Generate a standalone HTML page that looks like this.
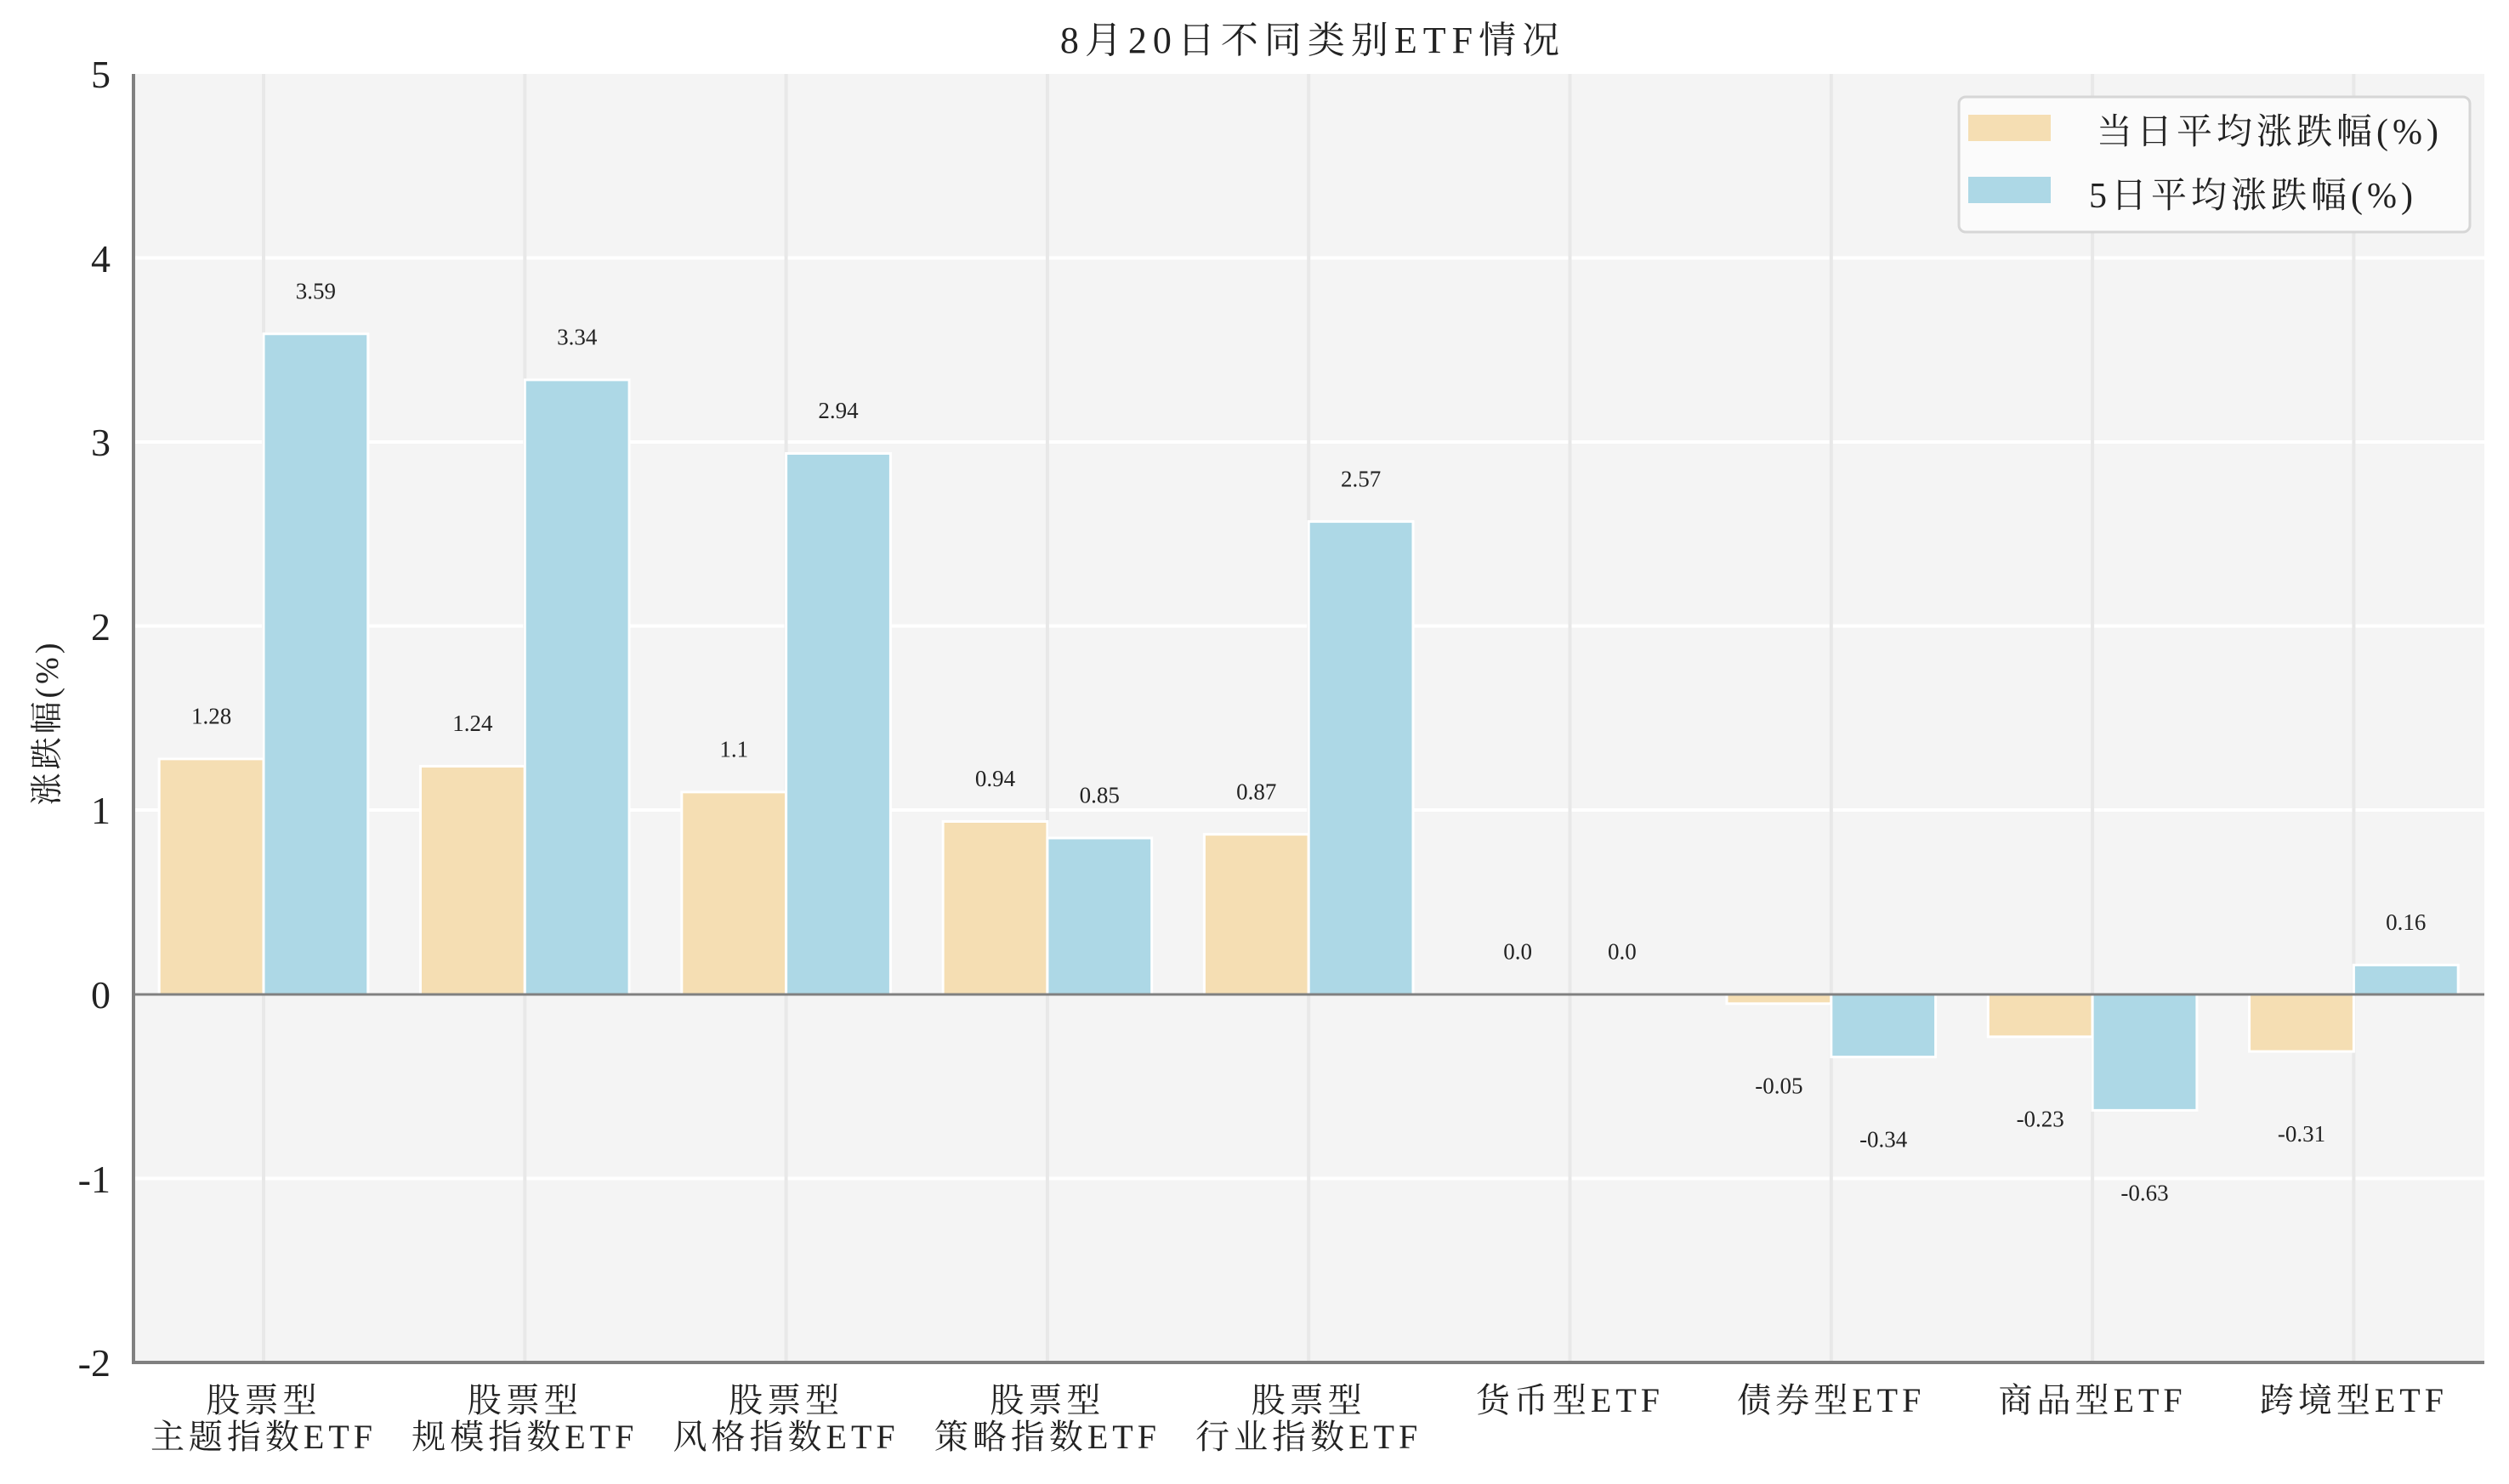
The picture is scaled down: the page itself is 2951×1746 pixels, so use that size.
<!DOCTYPE html>
<html><head><meta charset="utf-8"><style>
html,body{margin:0;padding:0;background:#fff;}
svg{display:block;font-family:"Liberation Serif","Noto Serif CJK SC",serif;}
</style></head><body>
<svg width="2951" height="1746" viewBox="0 0 2951 1746" xmlns="http://www.w3.org/2000/svg">
<rect x="157" y="87" width="2765" height="1516" fill="#f4f4f4"/>
<g stroke="#ffffff" stroke-width="4">
<line x1="157" x2="2922" y1="303.5" y2="303.5"/>
<line x1="157" x2="2922" y1="520" y2="520"/>
<line x1="157" x2="2922" y1="736.5" y2="736.5"/>
<line x1="157" x2="2922" y1="953" y2="953"/>
<line x1="157" x2="2922" y1="1386.5" y2="1386.5"/>
</g>
<g stroke="#e8e8e8" stroke-width="4" id="vg"></g>
<g id="bars"></g>
<g id="labels" font-size="27" fill="#222" text-anchor="middle"></g>
<line x1="157" x2="2922" y1="1170" y2="1170" stroke="#808080" stroke-width="3"/>
<line x1="157" x2="157" y1="87" y2="1605" stroke="#808080" stroke-width="4"/>
<line x1="155" x2="2922" y1="1603" y2="1603" stroke="#808080" stroke-width="4"/>
<g font-size="46" fill="#222" text-anchor="end">
<text x="130" y="103">5</text><text x="130" y="320">4</text><text x="130" y="536">3</text><text x="130" y="753">2</text><text x="130" y="969">1</text><text x="130" y="1186">0</text><text x="130" y="1403">-1</text><text x="130" y="1619">-2</text>
</g>
<text x="1544" y="62" font-size="44" fill="#222" text-anchor="middle" letter-spacing="7">8月20日不同类别ETF情况</text>
<text transform="translate(68,850) rotate(-90)" font-size="38" fill="#222" text-anchor="middle" letter-spacing="4">涨跌幅(%)</text>
<g font-size="40" fill="#222" text-anchor="middle" id="xl" letter-spacing="5"></g>
<rect x="2304" y="114" width="601" height="159" rx="8" fill="#fbfbfb" stroke="#d6d6d6" stroke-width="3"/>
<rect x="2315" y="135" width="97" height="31" fill="#f5deb3"/>
<rect x="2315" y="208" width="97" height="31" fill="#add8e6"/>
<text x="2466" y="169" font-size="42" fill="#222" letter-spacing="5">当日平均涨跌幅(%)</text>
<text x="2457" y="244" font-size="42" fill="#222" letter-spacing="5">5日平均涨跌幅(%)</text>
</svg>
<script>
var A=[1.28,1.24,1.1,0.94,0.87,0,-0.05,-0.23,-0.31],B=[3.59,3.34,2.94,0.85,2.57,0,-0.34,-0.63,0.16];
var AL=["1.28","1.24","1.1","0.94","0.87","0.0","-0.05","-0.23","-0.31"],BL=["3.59","3.34","2.94","0.85","2.57","0.0","-0.34","-0.63","0.16"];
var L=[["股票型","主题指数ETF"],["股票型","规模指数ETF"],["股票型","风格指数ETF"],["股票型","策略指数ETF"],["股票型","行业指数ETF"],["货币型ETF"],["债券型ETF"],["商品型ETF"],["跨境型ETF"]];
var ns="http://www.w3.org/2000/svg",y0=1170,u=216.5,sp=307.3,c0=310;
function el(t,a,p,txt){var e=document.createElementNS(ns,t);for(var k in a)e.setAttribute(k,a[k]);if(txt!=null)e.textContent=txt;document.getElementById(p).appendChild(e);}
for(var i=0;i<9;i++){var c=c0+i*sp;
el("line",{x1:c,x2:c,y1:87,y2:1603},"vg");
[[A[i],AL[i],c-61.4,"#f5deb3"],[B[i],BL[i],c+61.4,"#add8e6"]].forEach(function(d){
var v=d[0],top=y0-Math.max(v,0)*u,h=Math.abs(v)*u;
if(h>0)el("rect",{x:d[2]-61.4,y:top,width:122.8,height:h,fill:d[3],stroke:"#fff","stroke-width":3},"bars");
var ly=v>=0? y0-(v+0.2)*u : y0-(v-0.48)*u;
el("text",{x:d[2],y:ly+2},"labels",d[1]);});
if(L[i].length==2){el("text",{x:c,y:1661},"xl",L[i][0]);el("text",{x:c,y:1704},"xl",L[i][1]);}
else el("text",{x:c,y:1661},"xl",L[i][0]);}
</script>
</body></html>
